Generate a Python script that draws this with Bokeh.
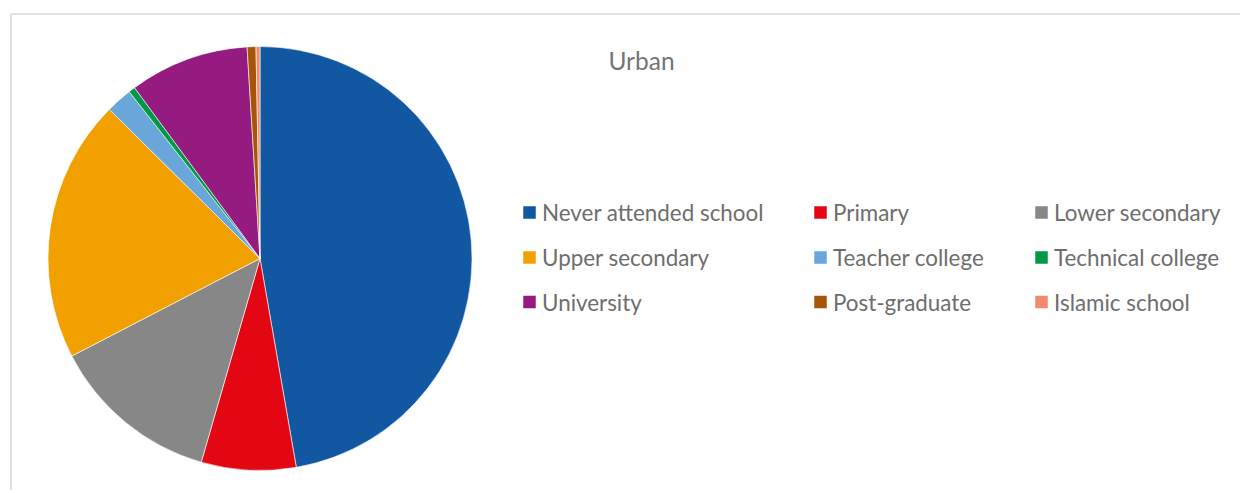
import math
from bokeh.plotting import figure
from bokeh.models import Range1d
from bokeh.core.properties import value
from bokeh.embed import file_html
from bokeh.resources import INLINE

title = "Urban"
categories = ["Never attended school", "Primary", "Lower secondary",
              "Upper secondary", "Teacher college", "Technical college",
              "University", "Post-graduate", "Islamic school"]
shares = [47.2, 7.2, 12.9, 20.0, 2.0, 0.5, 9.1, 0.67, 0.3]
colors = ["#1157A1", "#E30613", "#878787", "#F29F00", "#69A6DA",
          "#009944", "#951B81", "#A65508", "#EE8B6C"]

W, H = 1240, 490
p = figure(width=W, height=H, output_backend="svg", toolbar_location=None,
           x_range=Range1d(0, W), y_range=Range1d(-H, 0),
           min_border=0)
p.axis.visible = False
p.grid.visible = False
p.outline_line_color = None
p.background_fill_color = "white"

# chart frame
p.quad(left=10.5, right=1240.5, top=-13.5, bottom=-600,
       fill_color=None, line_color="#D9D9D9", line_width=1.5)

total = sum(shares)
cum = 0.0
starts, ends = [], []
for s in shares:
    starts.append(math.pi / 2 - 2 * math.pi * cum / total)
    cum += s
    ends.append(math.pi / 2 - 2 * math.pi * cum / total)

cx, cy, r = 259.5, -258, 212
p.wedge(x=[cx] * len(shares), y=[cy] * len(shares), radius=r,
        start_angle=starts, end_angle=ends, direction="clock",
        fill_color=colors, line_color="white", line_width=0.6)

p.text(x=[641], y=[-60], text=[title], text_font=value("Lato"),
       text_font_size="24.5px", text_color="#757575",
       text_align="center", text_baseline="middle")

col_x = [529, 820, 1041]
row_y = [212, 257, 301.5]
lx, ly, tx = [], [], []
for i, c in enumerate(categories):
    col = i % 3
    row = i // 3
    lx.append(col_x[col])
    ly.append(-row_y[row])
    tx.append(col_x[col] + 12.5)
p.rect(x=lx, y=ly, width=12.5, height=12.5, fill_color=colors, line_color=None)
p.text(x=tx, y=ly, text=categories, text_font=value("Lato"),
       text_font_size="22.4px", text_color="#6E6E6E",
       text_align="left", text_baseline="middle")

open("out.html", "w").write(file_html(p, INLINE))
